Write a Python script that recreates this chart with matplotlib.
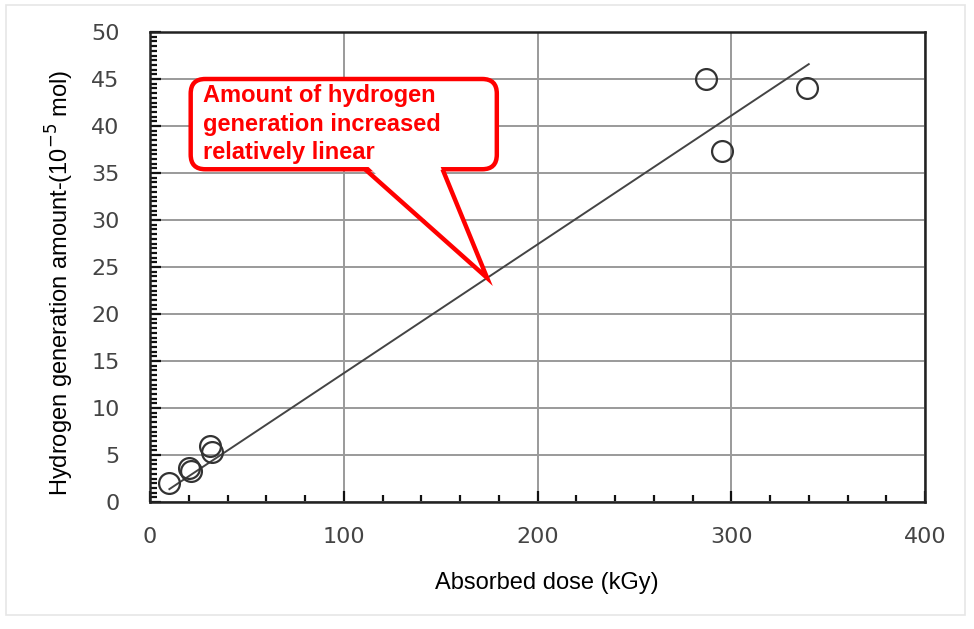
import numpy as np
import matplotlib.pyplot as plt
from matplotlib.patches import FancyBboxPatch, Polygon, Rectangle
from matplotlib.ticker import MultipleLocator

# absorbed dose (kGy) and hydrogen generated (1e-5 mol)
dose = [10, 20, 21, 31, 32, 287, 295, 339]
hydrogen = [2.0, 3.6, 3.3, 6.0, 5.3, 45.0, 37.3, 44.0]

# linear trend through the measurements
fit_slope = 0.137
fit_range = [10, 340]

callout_lines = ["Amount of hydrogen", "generation increased", "relatively linear"]

fig = plt.figure(figsize=(9.74, 6.29), dpi=100)
ax = fig.add_axes([150 / 974, 1 - 502 / 629, 775 / 974, 470 / 629])

# faint frame round the whole figure
fig.patches.append(Rectangle((0.006, 0.022), 0.985, 0.97, transform=fig.transFigure,
                             fill=False, ec="#e6e6e6", lw=1.2))

ax.set_xlim(0, 400)
ax.set_ylim(0, 50)
ax.xaxis.set_major_locator(MultipleLocator(100))
ax.xaxis.set_minor_locator(MultipleLocator(20))
ax.yaxis.set_major_locator(MultipleLocator(5))
ax.yaxis.set_minor_locator(MultipleLocator(0.5))
ax.grid(True, which="major", color="#9a9a9a", lw=1.4)
ax.set_axisbelow(True)
for s in ax.spines.values():
    s.set_linewidth(1.8)
    s.set_color("#222222")

ax.tick_params(which="both", direction="in", color="#111111", width=1.6)
ax.tick_params(which="major", length=8)
ax.tick_params(which="minor", length=5)
ax.tick_params(axis="y", which="both", right=False, pad=22, labelsize=16, labelcolor="#444444")
ax.tick_params(axis="x", which="both", top=False, pad=18, labelsize=16, labelcolor="#444444")

xs = np.array(fit_range, dtype=float)
ax.plot(xs, fit_slope * xs, color="#444444", lw=1.4, zorder=3)
ax.plot(dose, hydrogen, "o", ms=15, mfc="none", mec="#333333", mew=1.6, zorder=4)

# callout box with a tail pointing at the trend line
asp = 1.94 / 9.4
box_x0, box_x1, box_y0, box_y1 = 21, 179, 35.4, 45.0
box = FancyBboxPatch((box_x0, box_y0), box_x1 - box_x0, box_y1 - box_y0,
                     boxstyle="round,pad=0,rounding_size=7.5", mutation_aspect=asp,
                     fc="white", ec="red", lw=3.2, zorder=6)
ax.add_patch(box)
tip_x = 174
tip = (tip_x, fit_slope * tip_x)
base_l, base_r = 111, 151
ax.add_patch(Polygon([(base_l + 1.2, box_y0 + 0.35), (base_r - 1.2, box_y0 + 0.35), tip],
                     closed=True, fc="white", ec="none", zorder=7))
ax.plot([base_l, tip[0], base_r], [box_y0, tip[1], box_y0], color="red", lw=3.2,
        solid_joinstyle="miter", solid_capstyle="butt", zorder=8)

for i, line in enumerate(callout_lines):
    ax.text(box_x0 + 6.5, box_y1 - 1.8 - i * 3.0, line, color="red", fontsize=17,
            fontweight="bold", family="Liberation Sans", va="center", ha="left", zorder=9)

fig.text(547 / 974, 1 - 583 / 629, "Absorbed dose (kGy)", family="Liberation Sans",
         fontsize=17, ha="center", va="center")
fig.text(60 / 974, 1 - 283 / 629, "Hydrogen generation amount-(10$^{-5}$ mol)",
         family="Liberation Sans", fontsize=17, rotation=90, ha="center", va="center")

fig.savefig("out.png", dpi=100)
